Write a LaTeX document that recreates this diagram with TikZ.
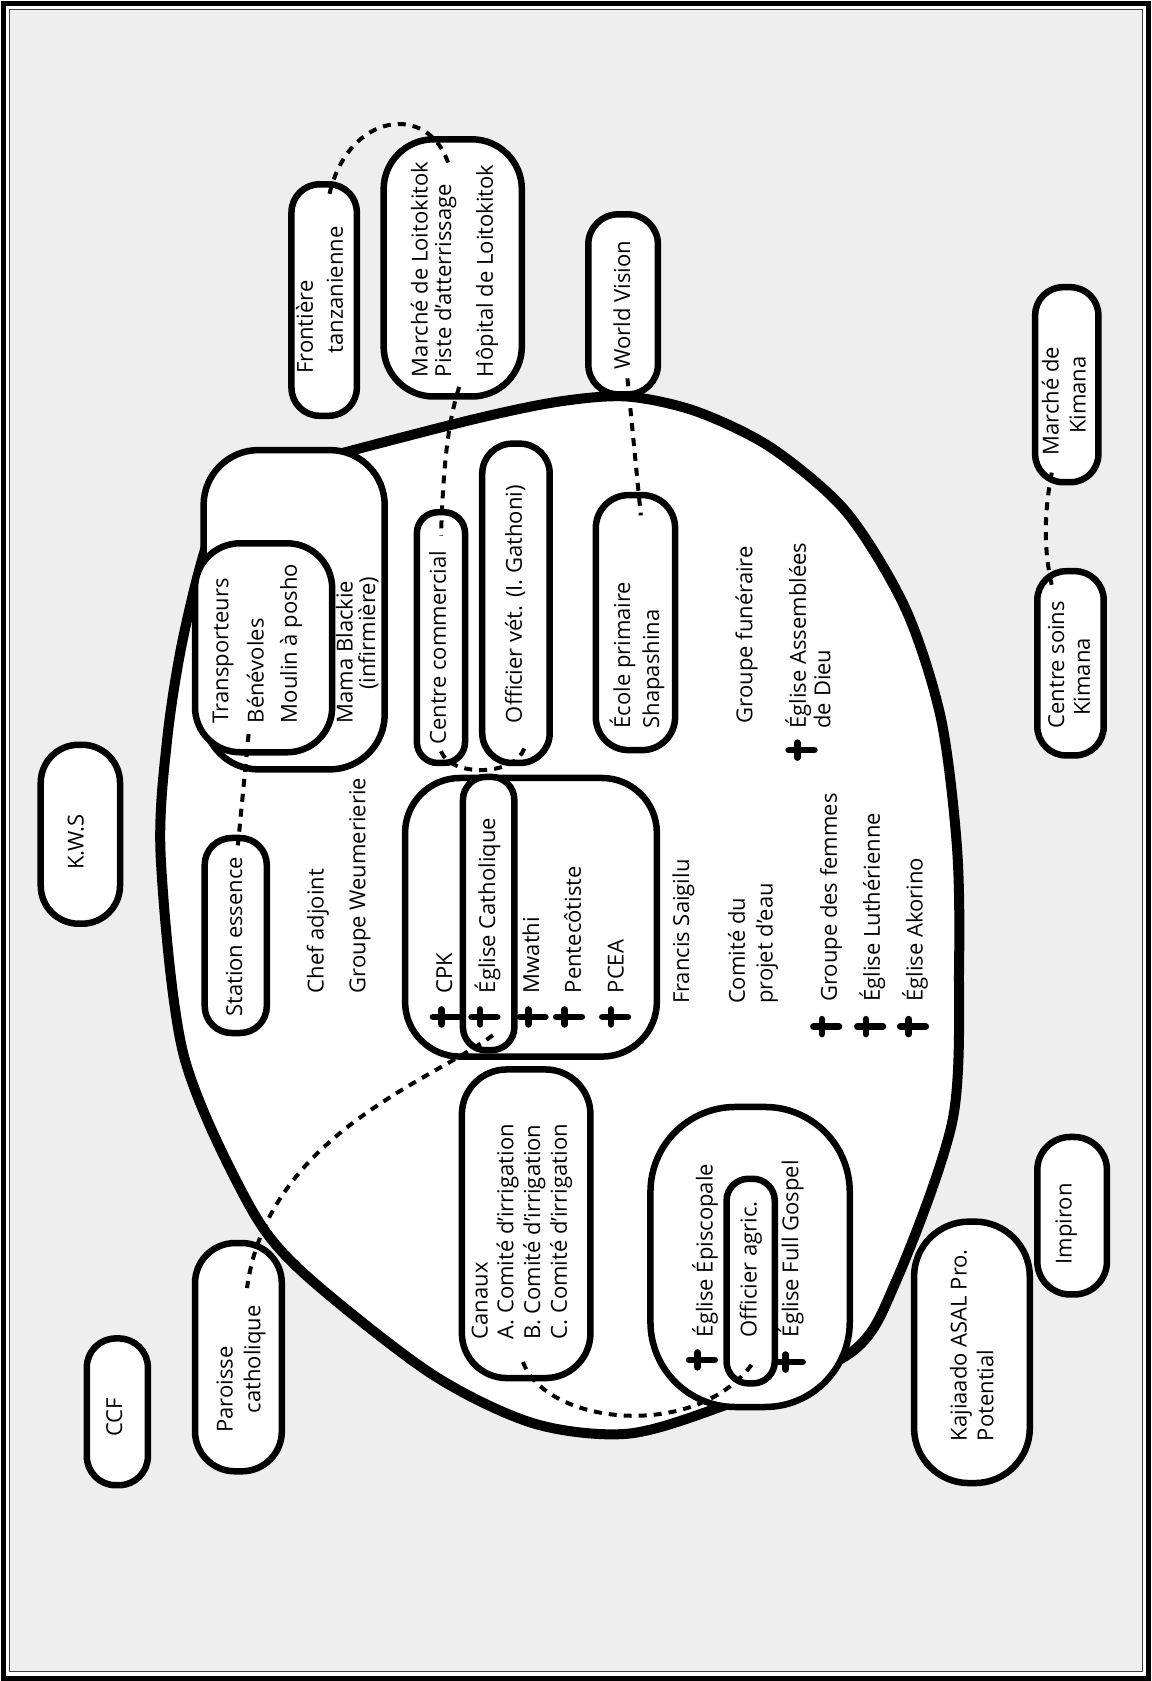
\documentclass[tikz,border=0pt]{standalone}
\usepackage{fontspec}
\setmainfont{Open Sans}
\usetikzlibrary{fit,calc}
\definecolor{bggray}{HTML}{EEEEEE}
\newcommand\lblfont{\fontsize{22}{26}\selectfont}
\begin{document}
\begin{tikzpicture}[x=1.0716pt,y=-1.0716pt,
  blob/.style={draw, line width=6.5pt, fill=white, inner sep=0pt},
  mainln/.style={draw, line width=10pt},
  dashln/.style={line width=4pt, dash pattern=on 8pt off 7pt},
  crossln/.style={line width=6.5pt, line cap=round},
  lbl/.style={rotate=90, anchor=base west, inner sep=0pt, font=\lblfont},
  relcross/.pic={\draw[crossln] (-12,0) -- (12,0) (-4,-7) -- (-4,7);}
]
\useasboundingbox (0,0) rectangle (1075,1568.7);
\fill[white] (0,0) rectangle (1075,1568.7);
\fill[bggray] (8.9,8.9) rectangle (1066.1,1559.8);
\draw[line width=1.6pt, black!75] (8.9,8.9) rectangle (1066.1,1559.8);
\draw[line width=5pt] (2.8,2.8) rectangle (1072.2,1565.9);

% main community ellipse
\draw[mainln, fill=white] plot[smooth cycle] coordinates {(300,428) (439,392) (520,375) (585,370) (650,384) (720,418) (790,478) (845,568) (878,670) (893,790) (895,900) (889,1045) (836,1196) (793,1263) (672,1313) (585,1338) (497,1328) (401,1281) (280,1185) (230,1120) (171,983) (150,800) (156,690) (172,590) (200,490) (245,445)};

% blobs
\node[blob, rounded corners=28pt, fit={(272,172) (333,388)}] (front) {};
\node[blob, rounded corners=50pt, fit={(358,130) (487,370)}] (loitok) {};
\node[blob, rounded corners=30pt, fit={(549,200) (614,368)}] (wvision) {};
\node[blob, rounded corners=33pt, fit={(556,462) (630,700)}] (ecole) {};
\node[blob, rounded corners=28pt, fit={(966,268) (1025,450)}] (kimmar) {};
\node[blob, rounded corners=29pt, fit={(968,533) (1030,705)}] (kimsoin) {};
\node[blob, rounded corners=55pt, fit={(190,420) (359,718)}] (mama) {};
\node[blob, rounded corners=45pt, fit={(182,507) (310,702)}] (trans) {};
\node[blob, rounded corners=27pt, fit={(191,782) (249,964)}] (station) {};
\node[blob, rounded corners=21pt, fit={(389,478) (434,712)}] (centrec) {};
\node[blob, rounded corners=30pt, fit={(450,414) (513,712)}] (offvet) {};
\node[blob, rounded corners=55pt, fit={(378,726) (613,986)}] (church) {};
\node[blob, rounded corners=23pt, fit={(432,725) (480,980)}] (egcath) {};
\node[blob, rounded corners=45pt, fit={(431,998) (551,1286)}] (canaux) {};
\node[blob, rounded corners=85pt, fit={(607,1033) (793,1313)}] (episc) {};
\node[blob, rounded corners=22pt, fit={(678,1100) (723,1291)}] (offagr) {};
\node[blob, rounded corners=40pt, fit={(182,1160) (263,1373)}] (paroisse) {};
\node[blob, rounded corners=29pt, fit={(81,1249) (138,1386)}] (ccf) {};
\node[blob, rounded corners=38pt, fit={(38,695) (112,862)}] (kws) {};
\node[blob, rounded corners=55pt, fit={(853,1140) (961,1384)}] (kajiado) {};
\node[blob, rounded corners=33pt, fit={(968,1061) (1033,1208)}] (impiron) {};

% dashed connectors
\draw[dashln] ($(front.north)+(5,12)$) .. controls (325,105) and (400,95) .. ($(loitok.north)+(-4,26)$);
\draw[dashln] ($(loitok.south)+(6,-12)$) .. controls (418,395) and (414,430) .. ($(centrec.north)+(0,25)$);
\draw[dashln] ($(wvision.south)+(4,-18)$) -- ($(ecole.north)+(5,22)$);
\draw[dashln] ($(kimmar.south)+(-14,-12)$) .. controls (974,480) and (974,515) .. ($(kimsoin.north)+(-17,18)$);
\draw[dashln] ($(trans.south)+(-14,-20)$) -- ($(station.north)+(2,10)$);
\draw[dashln] ($(centrec.south)+(0,-14)$) .. controls (420,725) and (480,725) .. ($(offvet.south)+(8,-17)$);
\draw[dashln] ($(egcath.south)+(4,-17)$) .. controls (400,1010) and (250,1060) .. ($(paroisse.north)+(8,45)$);
\draw[dashln] ($(canaux.south)+(-3,-18)$) .. controls (510,1330) and (650,1345) .. ($(offagr.south)+(2,-22)$);

% crosses
\pic at (416,949) {relcross};
\pic at (452,949) {relcross};
\pic at (497,949) {relcross};
\pic at (531,949) {relcross};
\pic at (574,949) {relcross};
\pic at (748,700) {relcross};
\pic at (771,958) {relcross};
\pic at (812,958) {relcross};
\pic at (852,958) {relcross};
\pic at (655,1269) {relcross};
\pic at (737,1271) {relcross};

% labels
\node[lbl] (tfront1) at (292,349) {Frontière};
\node[lbl] (tfront2) at (320,330) {tanzanienne};
\node[lbl] (tloi1) at (399,352) {Marché de Loitokitok};
\node[lbl] (tloi2) at (421,352) {Piste d'atterrissage};
\node[lbl] (tloi3) at (460,352) {Hôpital de Loitokitok};
\node[lbl] (twv) at (588,345) {World Vision};
\node[lbl] (tec1) at (588,680) {École primaire};
\node[lbl] (tec2) at (615,680) {Shapashina};
\node[lbl] (tkm1) at (988,425) {Marché de};
\node[lbl] (tkm2) at (1013,405) {Kimana};
\node[lbl] (tks1) at (993,680) {Centre soins};
\node[lbl] (tks2) at (1017,668) {Kimana};
\node[lbl] (ttr1) at (213,675) {Transporteurs};
\node[lbl] (ttr2) at (246,675) {Bénévoles};
\node[lbl] (ttr3) at (277,675) {Moulin à posho};
\node[lbl] (tmb1) at (329,675) {Mama Blackie};
\node[lbl] (tmb2) at (350,644) {(infirmière)};
\node[lbl] (tst) at (226,949) {Station essence};
\node[lbl] (tchef) at (302,927) {Chef adjoint};
\node[lbl] (tweu) at (341,927) {Groupe Weumerierie};
\node[lbl] (tcc) at (416,695) {Centre commercial};
\node[lbl] (tov) at (487,675) {Officier vét. (I. Gathoni)};
\node[lbl] (tcpk) at (422,927) {CPK};
\node[lbl] (tegc) at (462,927) {Église Catholique};
\node[lbl] (tmw) at (503,927) {Mwathi};
\node[lbl] (tpen) at (542,927) {Pentecôtiste};
\node[lbl] (tpcea) at (582,927) {PCEA};
\node[lbl] (tfs) at (643,937) {Francis Saigilu};
\node[lbl] (tcp1) at (695,937) {Comité du};
\node[lbl] (tcp2) at (721,937) {projet d’eau};
\node[lbl] (tgf) at (702,675) {Groupe funéraire};
\node[lbl] (tad1) at (752,680) {Église Assemblées};
\node[lbl] (tad2) at (775,680) {de Dieu};
\node[lbl] (tgfe) at (781,935) {Groupe des femmes};
\node[lbl] (tlut) at (821,935) {Église Luthérienne};
\node[lbl] (tako) at (861,935) {Église Akorino};
\node[lbl] (tcan0) at (455,1250) {Canaux};
\node[lbl] (tcan1) at (479,1250) {A. Comité d’irrigation};
\node[lbl] (tcan2) at (504,1250) {B. Comité d’irrigation};
\node[lbl] (tcan3) at (529,1250) {C. Comité d’irrigation};
\node[lbl] (tepi) at (665,1248) {Église Épiscopale};
\node[lbl] (toa) at (706,1248) {Officier agric.};
\node[lbl] (tfg) at (745,1248) {Église Full Gospel};
\node[lbl] (tpar1) at (217,1337) {Paroisse};
\node[lbl] (tpar2) at (243,1319) {catholique};
\node[lbl] (tccf) at (114,1341) {CCF};
\node[lbl] (tkws) at (78,812) {K.W.S};
\node[lbl] (tkaj1) at (902,1345) {Kajiaado ASAL Pro.};
\node[lbl] (tkaj2) at (927,1345) {Potential};
\node[lbl] (timp) at (1000,1180) {Impiron};
\end{tikzpicture}
\end{document}
